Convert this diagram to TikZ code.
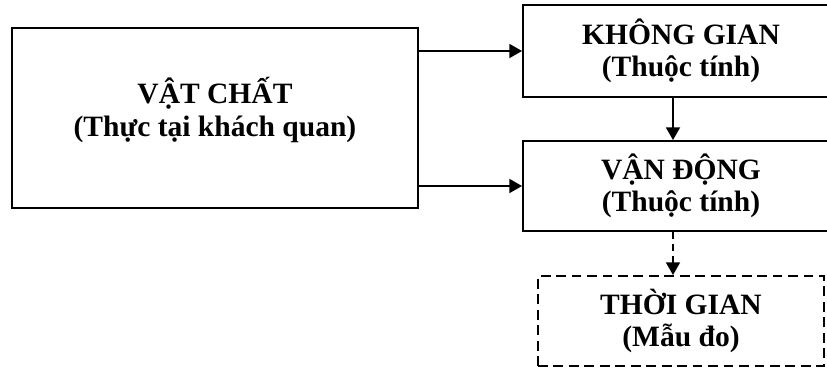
\documentclass[tikz,border=0pt]{standalone}
\usepackage{fontspec}
\setmainfont{Liberation Serif}
\usetikzlibrary{arrows.meta,positioning}

\begin{document}
\begin{tikzpicture}[
    box/.style={rectangle, draw, line width=1.4pt, align=center, inner sep=2pt,
                font=\fontsize{21}{23}\selectfont\bfseries},
    dashbox/.style={box, dash pattern=on 7pt off 4pt},
    arrow/.style={-{Triangle[length=9pt,width=10pt]}, line width=1.1pt}
]

% page frame, the right column runs past it
\useasboundingbox[fill=white] (0,0) rectangle (20.675,9.2);
\clip (0,0) rectangle (20.675,9.2);

% matter (left), text sits a bit above the middle
\node[box, minimum width=10.15cm, minimum height=4.5cm, text depth=16pt] (vat) at (5.375,6.25)
    {VẬT CHẤT\\(Thực tại khách quan)};

% attributes (right column)
\node[box, minimum width=7.9cm, minimum height=2.3cm] (khong) at (17.025,7.925)
    {KHÔNG GIAN\\(Thuộc tính)};
\node[box, minimum width=7.9cm, minimum height=2.25cm] (vandong) at (17.025,4.55)
    {VẬN ĐỘNG\\(Thuộc tính)};
\node[dashbox, minimum width=7.15cm, minimum height=2.25cm] (thoigian) at (17.025,1.175)
    {THỜI GIAN\\(Mẫu đo)};

\draw[arrow] (vat.east |- khong.west) -- (khong.west);
\draw[arrow] (vat.east |- vandong.west) -- (vandong.west);
\draw[arrow] ([xshift=-0.2cm]khong.south) -- ([xshift=-0.2cm]vandong.north);
\draw[arrow, dash pattern=on 5pt off 3.5pt] ([xshift=-0.2cm]vandong.south) -- ([xshift=-0.2cm]thoigian.north);

\end{tikzpicture}
\end{document}
